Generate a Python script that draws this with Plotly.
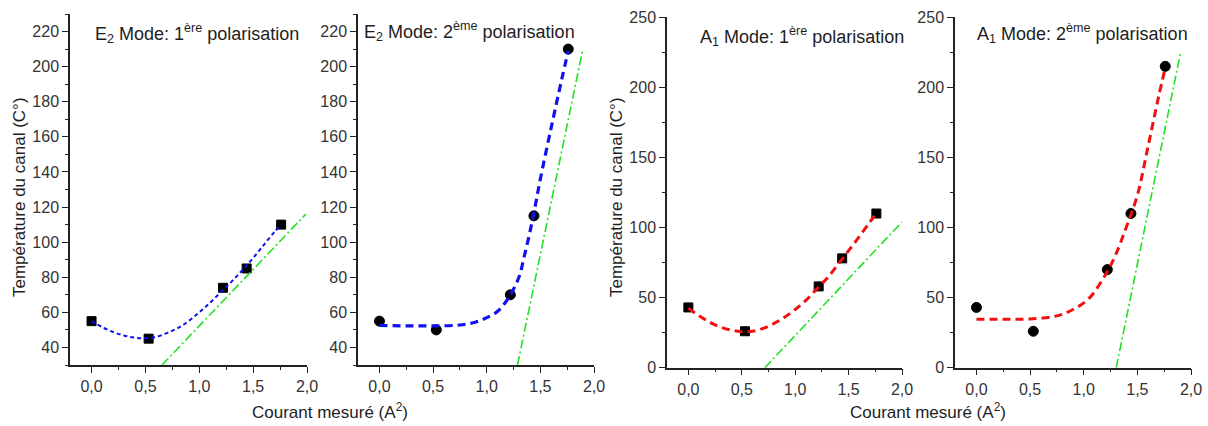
import plotly.graph_objects as go

# ---------------- data ----------------
x_meas = [0.0, 0.53, 1.22, 1.44, 1.76]

# Panel 1: E2 mode, 1ere polarisation
p1_y = [55, 45, 74, 85, 110]
p1_fit_x = [0, 0.1, 0.2, 0.3, 0.4, 0.5, 0.6, 0.7, 0.8, 0.9, 1.0, 1.1, 1.2, 1.3, 1.4, 1.5, 1.6, 1.7, 1.76]
p1_fit_y = [55, 51.5, 48.8, 46.8, 45.6, 45.3, 46, 48.2, 51, 55, 60, 65.5, 71.5, 77.5, 84, 91, 98.5, 106, 110]
p1_lin_x = [0.654, 1.99]
p1_lin_y = [30, 116]

# Panel 2: E2 mode, 2eme polarisation
p2_y = [55, 50, 70, 115, 210]
p2_fit_x = [0, 0.25, 0.5, 0.75, 0.9, 1.0, 1.1, 1.2, 1.3, 1.35, 1.4, 1.45, 1.5, 1.6, 1.7, 1.76]
p2_fit_y = [52.6, 52.3, 52.3, 52.8, 54.5, 57, 60.5, 68, 80, 92, 105, 120, 136, 165, 193, 209]
p2_lin_x = [1.287, 1.895]
p2_lin_y = [30, 209.7]

# Panel 3: A1 mode, 1ere polarisation
p3_y = [43, 26, 58, 78, 110]
p3_fit_x = [0, 0.1, 0.2, 0.3, 0.4, 0.5, 0.6, 0.7, 0.8, 0.9, 1.0, 1.1, 1.2, 1.3, 1.4, 1.5, 1.6, 1.7, 1.76]
p3_fit_y = [42.5, 37, 32.5, 29, 26.8, 25.7, 26, 28, 31.5, 36, 41.5, 48, 56, 64, 73.5, 83.5, 93.5, 104, 110]
p3_lin_x = [0.716, 2.0]
p3_lin_y = [0, 104]

# Panel 4: A1 mode, 2eme polarisation
p4_y = [43, 26, 70, 110, 215]
p4_fit_x = [0, 0.25, 0.5, 0.75, 0.9, 1.05, 1.2, 1.3, 1.4, 1.5, 1.6, 1.7, 1.76]
p4_fit_y = [34.6, 34.6, 34.8, 37, 41.5, 49.5, 66, 81, 101, 123, 158, 194, 214]
p4_lin_x = [1.303, 1.905]
p4_lin_y = [0, 225.7]

titles = [
    "E<sub>2</sub> Mode: 1<sup>ère</sup> polarisation",
    "E<sub>2</sub> Mode: 2<sup>ème</sup> polarisation",
    "A<sub>1</sub> Mode: 1<sup>ère</sup> polarisation",
    "A<sub>1</sub> Mode: 2<sup>ème</sup> polarisation",
]
y_title = "Température du canal (C°)"
x_title = "Courant mesuré (A<sup>2</sup>)"

# ---------------- styling ----------------
FONT = "Arial, Liberation Sans, sans-serif"
BLUE = "#1010f0"
RED = "#f01010"
GREEN = "#22e022"
TXT = "#1e1e1e"
W, H = 1208, 426

x_domains = [(70 / W, 307 / W), (358 / W, 594 / W), (667 / W, 902 / W), (955 / W, 1191 / W)]
y_dom_e2 = ((H - 365) / H, (H - 14) / H)
y_dom_a1 = ((H - 367.7) / H, (H - 17.3) / H)

panels = [
    dict(y=p1_y, fx=p1_fit_x, fy=p1_fit_y, lx=p1_lin_x, ly=p1_lin_y, sym="square", col=BLUE,
         dash="4px,3px", lw=2, ydom=y_dom_e2, yr=[30, 230], dt=20, t0=40),
    dict(y=p2_y, fx=p2_fit_x, fy=p2_fit_y, lx=p2_lin_x, ly=p2_lin_y, sym="circle", col=BLUE,
         dash="8px,5px", lw=3.2, ydom=y_dom_e2, yr=[30, 230], dt=20, t0=40),
    dict(y=p3_y, fx=p3_fit_x, fy=p3_fit_y, lx=p3_lin_x, ly=p3_lin_y, sym="square", col=RED,
         dash="8px,5px", lw=3, ydom=y_dom_a1, yr=[0, 250], dt=50, t0=0),
    dict(y=p4_y, fx=p4_fit_x, fy=p4_fit_y, lx=p4_lin_x, ly=p4_lin_y, sym="circle", col=RED,
         dash="8px,5px", lw=3, ydom=y_dom_a1, yr=[0, 250], dt=50, t0=0),
]

fig = go.Figure()
layout = dict(
    template="none",
    width=W, height=H, autosize=False,
    margin=dict(l=0, r=0, t=0, b=0, pad=0),
    paper_bgcolor="white", plot_bgcolor="white",
    showlegend=False,
    separators=", ",
    font=dict(family=FONT, color=TXT, size=15),
)

annotations = []
for i, p in enumerate(panels):
    n = i + 1
    xa = "x" if n == 1 else f"x{n}"
    ya = "y" if n == 1 else f"y{n}"
    fig.add_trace(go.Scatter(
        x=x_meas, y=p["y"], mode="markers", xaxis=xa, yaxis=ya,
        marker=dict(symbol=p["sym"], size=9 if p["sym"] == "square" else 10,
                    color="black", line=dict(color="black", width=1)),
        cliponaxis=False,
    ))
    fig.add_trace(go.Scatter(
        x=p["fx"], y=p["fy"], mode="lines", xaxis=xa, yaxis=ya,
        line=dict(color=p["col"], width=p["lw"], dash=p["dash"], shape="spline"),
    ))
    fig.add_trace(go.Scatter(
        x=p["lx"], y=p["ly"], mode="lines", xaxis=xa, yaxis=ya,
        line=dict(color=GREEN, width=1.6, dash="9px,3px,2px,3px"),
    ))

    axis_common = dict(
        showgrid=False, zeroline=False, showline=True, linecolor="#222222", linewidth=1.5,
        ticks="outside", ticklen=6, tickwidth=1.3, tickcolor="#222222",
        tickfont=dict(family=FONT, size=16, color="#333333"),
        mirror=False, automargin=False,
    )
    layout["xaxis" if n == 1 else f"xaxis{n}"] = dict(
        axis_common, domain=list(x_domains[i]), anchor=ya, range=[-0.2, 2.0],
        tick0=0, dtick=0.5, tickformat=".1f",
        minor=dict(ticks="outside", ticklen=3, tickwidth=1, tickcolor="#222222", dtick=0.25, tick0=0),
    )
    layout["yaxis" if n == 1 else f"yaxis{n}"] = dict(
        axis_common, domain=list(p["ydom"]), anchor=xa, range=p["yr"],
        tick0=p["t0"], dtick=p["dt"],
        minor=dict(ticks="outside", ticklen=3, tickwidth=1, tickcolor="#222222",
                   dtick=p["dt"] / 2, tick0=p["t0"]),
    )

title_pos = [(93, 33), (362, 32), (698, 36), (975, 33)]
for t, (px, py) in zip(titles, title_pos):
    annotations.append(dict(
        text=t, xref="paper", yref="paper", x=px / W, y=1 - py / H,
        xanchor="left", yanchor="middle", showarrow=False,
        font=dict(family=FONT, size=18, color=TXT),
    ))

for px, py in [(19, 197), (616, 197)]:
    annotations.append(dict(
        text=y_title, xref="paper", yref="paper", x=px / W, y=1 - py / H,
        xanchor="center", yanchor="middle", textangle=-90, showarrow=False,
        font=dict(family=FONT, size=17, color=TXT),
    ))

for px, py in [(330, 411), (928, 411)]:
    annotations.append(dict(
        text=x_title, xref="paper", yref="paper", x=px / W, y=1 - py / H,
        xanchor="center", yanchor="middle", showarrow=False,
        font=dict(family=FONT, size=17, color=TXT),
    ))

layout["annotations"] = annotations
fig.update_layout(**layout)
fig.write_html(
    "out.html",
    config={"displayModeBar": False},
    post_script="document.body.style.margin='0';document.body.style.overflow='hidden';",
)
